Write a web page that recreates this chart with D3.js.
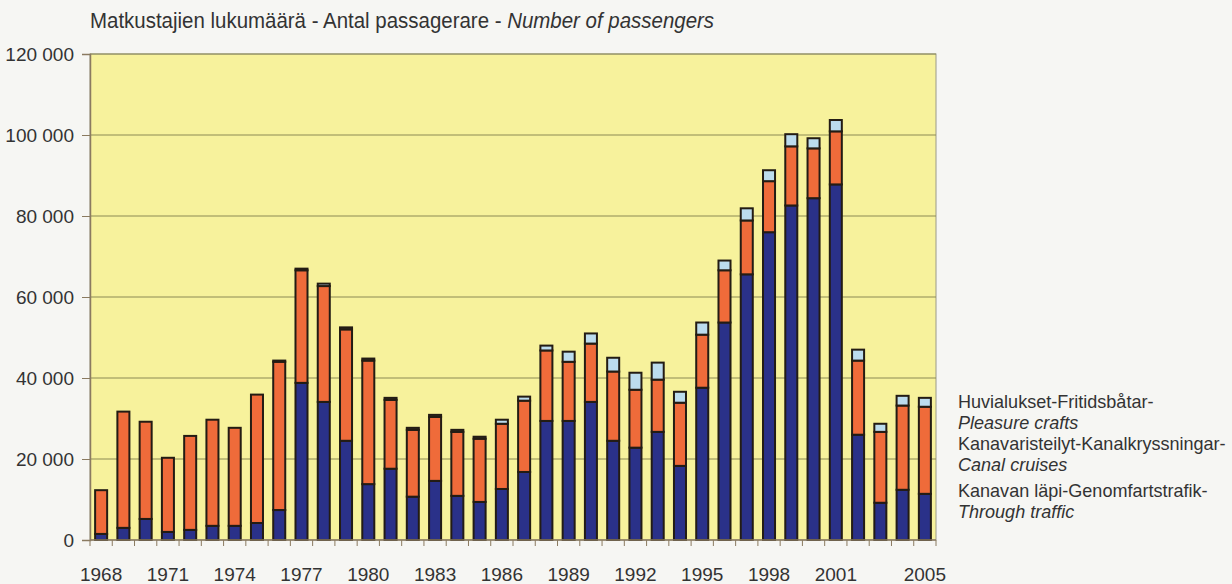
<!DOCTYPE html>
<html><head><meta charset="utf-8">
<script src="https://cdn.jsdelivr.net/npm/d3@7"></script>
<style>body{margin:0;background:#f6f6f3;} svg{display:block}</style>
</head><body>
<script>
const years = [1968,1969,1970,1971,1972,1973,1974,1975,1976,1977,1978,1979,1980,1981,1982,1983,1984,1985,1986,1987,1988,1989,1990,1991,1992,1993,1994,1995,1996,1997,1998,1999,2000,2001,2002,2003,2004,2005];
const throughTraffic = [1500,3000,5200,2000,2500,3500,3500,4200,7400,38800,34100,24500,13800,17600,10700,14600,10900,9400,12600,16800,29400,29400,34100,24500,22800,26700,18300,37600,53700,65600,76000,82600,84400,87800,26000,9200,12400,11400];
const canalCruises = [10800,28700,24000,18300,23200,26200,24200,31700,36600,27800,28600,27500,30500,17000,16500,15800,15800,15600,16100,17600,17400,14600,14400,17100,14300,12900,15600,13100,12900,13300,12600,14600,12300,13100,18300,17500,20800,21500];
const pleasureCrafts = [0,0,0,0,0,0,0,0,300,400,600,500,500,500,500,500,500,500,1000,1000,1200,2500,2500,3400,4200,4200,2700,3000,2400,3000,2700,3000,2500,2800,2700,2000,2400,2200];
const yTicks = [0,20000,40000,60000,80000,100000,120000];
const xLabelYears = [1968,1971,1974,1977,1980,1983,1986,1989,1992,1995,1998,2001,2005];
const seriesKeys = ["through","cruises","pleasure"];
const seriesColors = ["#2a3189","#ef6b3a","#bcdcee"];
const legendLines = [
  ["Huvialukset-Fritidsbåtar-","Pleasure crafts"],
  ["Kanavaristeilyt-Kanalkryssningar-","Canal cruises"],
  ["Kanavan läpi-Genomfartstrafik-","Through traffic"]
];

(function(){
const W=1232,H=584;
const font = "'Liberation Sans',Arial,sans-serif";
const svg = d3.select("body").append("svg").attr("width",W).attr("height",H);

const pL=90,pR=936,pT=54,pB=540;
const x = d3.scaleBand().domain(years).range([pL,pR]).paddingInner(0.46).paddingOuter(0.23);
const y = d3.scaleLinear().domain([0,120000]).range([pB,pT]);

svg.append("rect").attr("x",pL).attr("y",pT).attr("width",pR-pL).attr("height",pB-pT)
  .attr("fill","#f7f29c").attr("stroke","#9a9a8a").attr("stroke-width",1);

svg.append("g").selectAll("line").data(yTicks.filter(d=>d>0)).join("line")
  .attr("x1",pL).attr("x2",pR).attr("y1",d=>y(d)).attr("y2",d=>y(d))
  .attr("stroke","#8c8a55").attr("stroke-width",1);

const fmt = d=> d3.format(",")(d).replace(/,/g," ");
const yAxis = svg.append("g").attr("transform",`translate(${pL},0)`)
  .call(d3.axisLeft(y).tickValues(yTicks).tickFormat(fmt).tickSize(8).tickPadding(8));
yAxis.select(".domain").attr("stroke","#8a7a60").attr("stroke-width",1.5);
yAxis.selectAll(".tick line").attr("stroke","#8a7a60");
yAxis.selectAll("text").attr("font-family",font).attr("font-size",19).attr("fill","#333");

const data = years.map((yr,i)=>({year:yr,through:throughTraffic[i],cruises:canalCruises[i],pleasure:pleasureCrafts[i]}));
const stack = d3.stack().keys(seriesKeys)(data);
svg.append("g").selectAll("g").data(stack).join("g")
  .attr("fill",(d,i)=>seriesColors[i])
  .selectAll("rect").data(d=>d).join("rect")
  .attr("x",d=>x(d.data.year)).attr("width",x.bandwidth())
  .attr("y",d=>y(d[1])).attr("height",d=>Math.max(0,y(d[0])-y(d[1])))
  .attr("stroke","#231c14").attr("stroke-width",2);

svg.append("line").attr("x1",pL).attr("x2",pR).attr("y1",pB).attr("y2",pB)
  .attr("stroke","#8a7a60").attr("stroke-width",1.5);
const bounds = years.map(d=>x(d)+x.bandwidth()/2 - x.step()/2).concat([pR]);
svg.append("g").selectAll("line").data(bounds).join("line")
  .attr("x1",d=>d).attr("x2",d=>d).attr("y1",pB).attr("y2",pB+6)
  .attr("stroke","#8a7a60").attr("stroke-width",1);
const xAxis = svg.append("g").attr("transform",`translate(0,${pB})`)
  .call(d3.axisBottom(x).tickValues(xLabelYears).tickSize(0).tickPadding(28));
xAxis.select(".domain").remove();
xAxis.selectAll("text").attr("font-family",font).attr("font-size",19).attr("fill","#333");

const title = svg.append("text").attr("transform","translate(90,28) scale(0.93,1)")
  .attr("font-family",font).attr("font-size",22).attr("fill","#333");
title.append("tspan").text("Matkustajien lukumäärä - Antal passagerare - ");
title.append("tspan").attr("font-style","italic").text("Number of passengers");

const lg = svg.append("g").attr("font-family",font).attr("font-size",19).attr("fill","#333");
const lgY = [408,450,497];
legendLines.forEach((l,i)=>{
  lg.append("text").attr("transform",`translate(958,${lgY[i]}) scale(0.95,1)`).text(l[0]);
  lg.append("text").attr("transform",`translate(958,${lgY[i]+21}) scale(0.95,1)`).attr("font-style","italic").text(l[1]);
});
})();
</script>
</body></html>
